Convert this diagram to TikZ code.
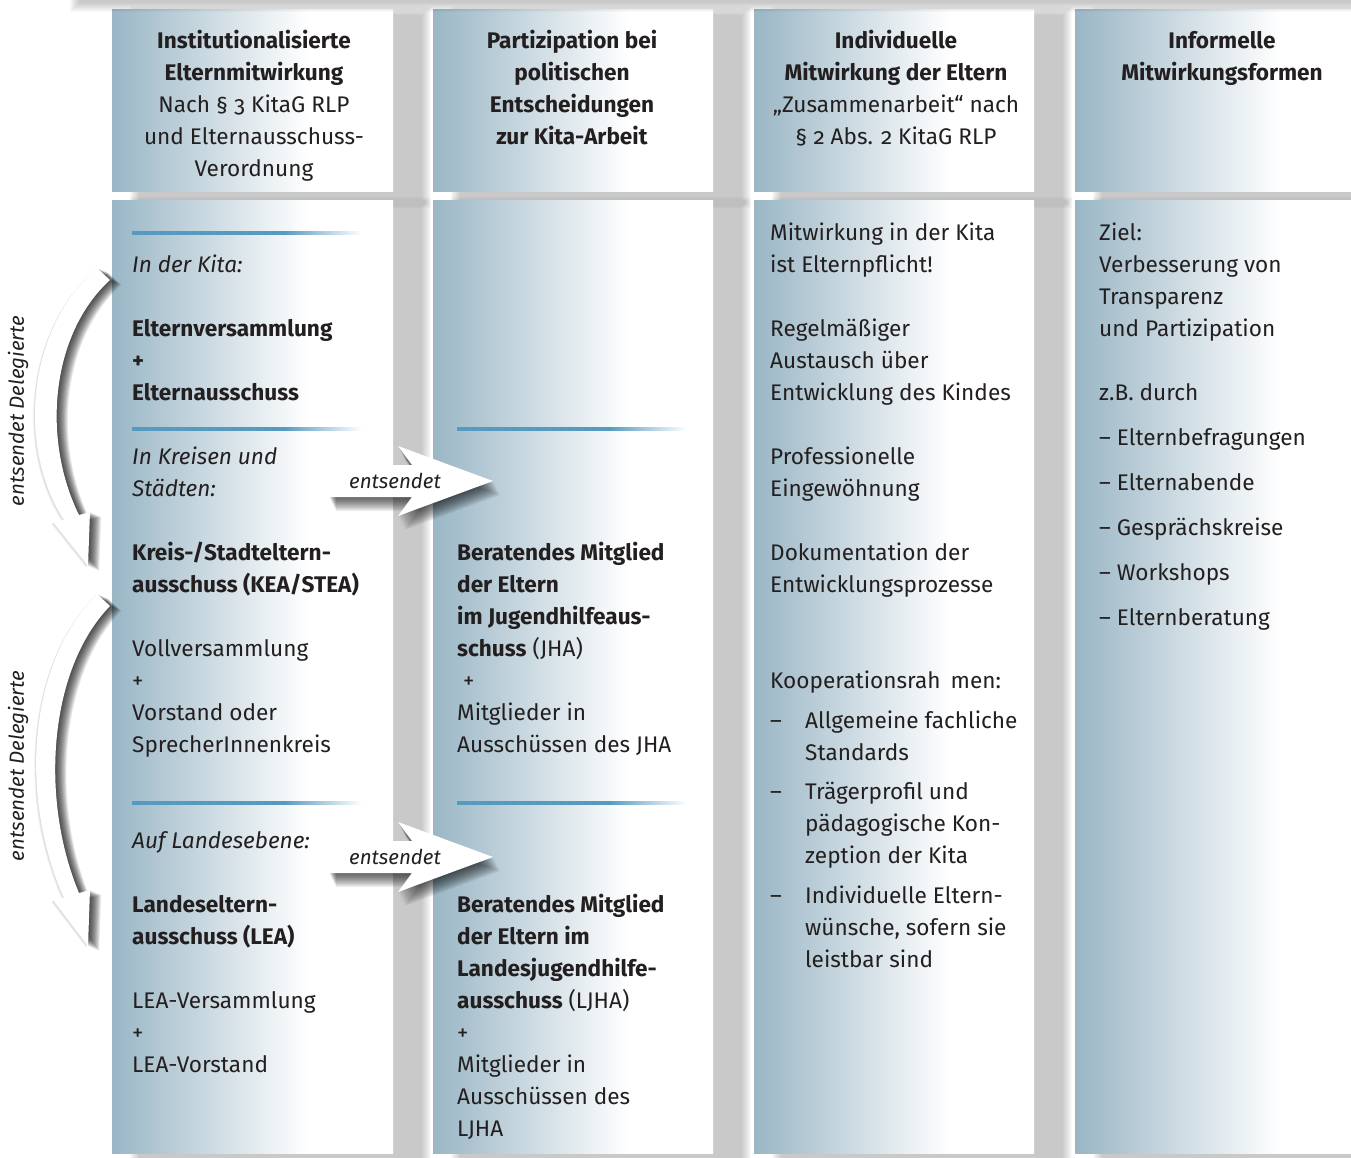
\documentclass[tikz,border=0pt]{standalone}
\usepackage{fontspec}
\setmainfont{Fira Sans}[Numbers=OldStyle]
\usetikzlibrary{calc}
\definecolor{panelblue}{RGB}{154,182,197}
\definecolor{ruleblue}{RGB}{86,154,192}
\definecolor{inkgray}{RGB}{35,31,32}
\pgfdeclarehorizontalshading{panelshade}{100bp}{color(0bp)=(panelblue); color(25bp)=(panelblue); color(60bp)=(white); color(100bp)=(white)}
\pgfdeclarehorizontalshading{ruleshade}{100bp}{color(0bp)=(ruleblue); color(25bp)=(ruleblue); color(58bp)=(ruleblue); color(75bp)=(white); color(100bp)=(white)}
\newcommand\bodyfont{\fontsize{22.6}{32}\selectfont}
\newcommand\sendfont{\fontsize{20.5}{32}\selectfont\itshape}
% soft shadow: nested rectangles with low opacity
\newcommand\softshadow[4]{%
  \foreach \i in {0,...,9}
    \fill[black,opacity=.025] ({#1-10+\i},{#2-10+\i}) rectangle ({#3+10-\i},{#4+10-\i});}
\def\delegA{(97,268) .. controls (25,330) and (18,450) .. (64,520) -- (53,522) -- (88,566) -- (90,512) -- (79,515) .. controls (42,440) and (50,335) .. (110,280) -- cycle}
\def\delegB{(97,594) .. controls (26,665) and (20,800) .. (64,898) -- (53,900) -- (88,946) -- (90,890) -- (79,893) .. controls (40,800) and (48,670) .. (110,606) -- cycle}
\def\sendarrow{(329,465) -- (412,465) -- (398,446) -- (493,481) -- (398,516) -- (412,497) -- (329,497) -- cycle}
\tikzset{
 panel/.style={shading=panelshade},
 txt/.style={anchor=north west, inner sep=0pt, align=left, font=\bodyfont, text=inkgray},
 headtxt/.style={anchor=north, inner sep=0pt, align=center, font=\bodyfont, text=inkgray},
 sendtxt/.style={inner sep=0pt, font=\sendfont, text=inkgray},
}
\begin{document}
\begin{tikzpicture}[x=1pt,y=-1pt]
\useasboundingbox (0,0) rectangle (1351,1158);
\clip (0,0) rectangle (1351,1158);
% shadows of the columns
\foreach \x/\w in {112/281,433/280,754/280,1075/294}{
  \softshadow{\x+28}{16}{\x+\w+28}{198}
  \softshadow{\x+28}{207}{\x+\w+28}{1162}
}
% columns
\foreach \x/\w in {112/281,433/280,754/280,1075/294}{
  \shade[panel] (\x,10) rectangle (\x+\w,192);
  \shade[panel] (\x,201) rectangle (\x+\w,1153);
}
% top band
\softshadow{80}{-60}{1420}{2}
% rules
\foreach \x/\y in {132/233,132/429,132/803,457/429,457/803}
  \shade[shading=ruleshade] (\x,\y-1.3) rectangle (\x+230,\y+1.3);

% headers
\node[headtxt] (headInst) at (254,26) {\strut\textbf{Institutionalisierte}\\\textbf{Elternmitwirkung}\\Nach § 3 KitaG RLP\\und Elternausschuss-\\Verordnung};
\node[headtxt] (headPart) at (572,26) {\strut\textbf{Partizipation bei}\\\textbf{politischen}\\\textbf{Entscheidungen}\\\textbf{zur Kita-Arbeit}};
\node[headtxt] (headIndiv) at (896,26) {\strut\textbf{Individuelle}\\\textbf{Mitwirkung der Eltern}\\„Zusammenarbeit“ nach\\§ 2 Abs. 2 KitaG RLP};
\node[headtxt] (headInf) at (1222,26) {\strut\textbf{Informelle}\\\textbf{Mitwirkungsformen}};

% column 1
\node[txt] (kita) at (132,250) {\strut\textit{In der Kita:}};
\node[txt] (elternvers) at (132,314) {\strut\textbf{Elternversammlung}\\\textbf{+}\\\textbf{Elternausschuss}};
\node[txt] (kreise) at (132,442) {\strut\textit{In Kreisen und}\\\textit{Städten:}};
\node[txt] (kea) at (132,538) {\strut\textbf{Kreis-/Stadteltern-}\\\textbf{ausschuss (KEA/STEA)}};
\node[txt] (vollvers) at (132,634) {\strut Vollversammlung\\+\\Vorstand oder\\SprecherInnenkreis};
\node[txt] (landesebene) at (132,826) {\strut\textit{Auf Landesebene:}};
\node[txt] (lea) at (132,890) {\strut\textbf{Landeseltern-}\\\textbf{ausschuss (LEA)}};
\node[txt] (leavers) at (132,986) {\strut LEA-Versammlung\\+\\LEA-Vorstand};

% column 2
\node[txt] (jha) at (457,538) {\strut\textbf{Beratendes Mitglied}\\\textbf{der Eltern}\\\textbf{im Jugendhilfeaus-}\\\textbf{schuss} (JHA)\\\hspace*{6pt}+\\Mitglieder in\\Ausschüssen des JHA};
\node[txt] (ljha) at (457,890) {\strut\textbf{Beratendes Mitglied}\\\textbf{der Eltern im}\\\textbf{Landesjugendhilfe-}\\\textbf{ausschuss} (LJHA)\\+\\Mitglieder in\\Ausschüssen des\\LJHA};

% column 3
\node[txt] (pflicht) at (770,218) {\strut Mitwirkung in der Kita\\ist Elternpflicht!};
\node[txt] (austausch) at (770,314) {\strut Regelmäßiger\\Austausch über\\Entwicklung des Kindes};
\node[txt] (eingew) at (770,442) {\strut Professionelle\\Eingewöhnung};
\node[txt] (doku) at (770,538) {\strut Dokumentation der\\Entwicklungsprozesse};
\node[txt] (koop) at (770,666) {\strut Kooperationsrah\hspace*{.45em}men:};
\foreach \y/\n in {706/A,777/B,881/C}
  \node[txt] (dash\n) at (770,\y) {\strut –};
\node[txt] (koopA) at (805,706) {\strut Allgemeine fachliche\\Standards};
\node[txt] (koopB) at (805,777) {\strut Trägerprofil und\\pädagogische Kon-\\zeption der Kita};
\node[txt] (koopC) at (805,881) {\strut Individuelle Eltern-\\wünsche, sofern sie\\leistbar sind};

% column 4
\node[txt] (ziel) at (1099,218) {\strut Ziel:\\Verbesserung von\\Transparenz\\und Partizipation};
\node[txt] (durch) at (1099,378) {\strut z.B. durch};
\foreach \y/\n/\t in {423/1/Elternbefragungen,468/2/Elternabende,513/3/Gesprächskreise,558/4/Workshops,603/5/Elternberatung}
  \node[txt] (inf\n) at (1099,\y) {\strut – \t};

% delegation arrows
\foreach \s in {1,...,5}{
  \fill[black,opacity=.03,shift={(-\s*.4,\s*.4)}] \delegA;
  \fill[black,opacity=.03,shift={(-\s*.4,\s*.4)}] \delegB;
}
\foreach \s in {1,...,14}{
  \fill[black,opacity=.08,shift={(\s*.8,\s*.35)}] \delegA;
  \fill[black,opacity=.08,shift={(\s*.8,\s*.35)}] \delegB;
  \fill[black,opacity=.06,shift={(\s*.5,\s)}] \sendarrow;
  \fill[black,opacity=.06,shift={(\s*.5,376+\s)}] \sendarrow;
}
\fill[white] \delegA;
\fill[white] \delegB;
\fill[white] \sendarrow;
\fill[white,shift={(0,376)}] \sendarrow;
\node[sendtxt] (sendA) at (395,481) {entsendet};
\node[sendtxt] (sendB) at (395,857) {entsendet};
\node[sendtxt,rotate=90] (dlgA) at (18,411) {entsendet Delegierte};
\node[sendtxt,rotate=90] (dlgB) at (18,766) {entsendet Delegierte};
\end{tikzpicture}
\end{document}
